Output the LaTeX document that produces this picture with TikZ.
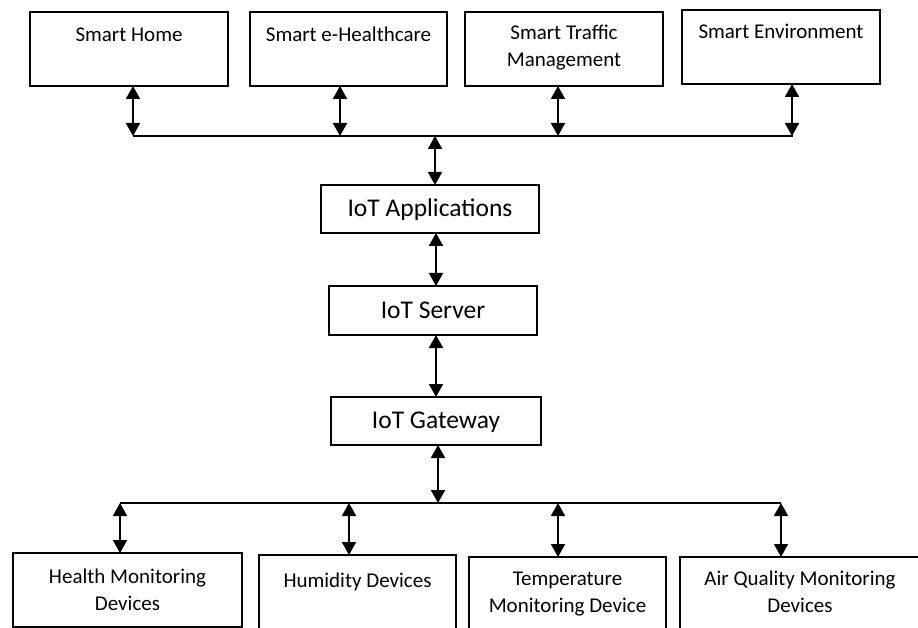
\documentclass[tikz,border=0pt]{standalone}
\usepackage{fontspec}
\setmainfont{Carlito}
\usetikzlibrary{arrows.meta}
\begin{document}
\begin{tikzpicture}[x=1pt,y=-1pt,
 box/.style={draw, line width=1.1pt, inner sep=0pt, outer sep=0pt, anchor=north west},
 lbl/.style={anchor=base, align=center, inner sep=0pt, font=\fontsize{21}{27}\selectfont},
 midlbl/.style={anchor=base, inner sep=0pt, font=\fontsize{25.5}{29}\selectfont},
 arr/.style={line width=1.9pt, {Triangle[width=14pt,length=13pt]}-{Triangle[width=14pt,length=13pt]}},
 bus/.style={line width=1.9pt}]
\fill[white] (0,0) rectangle (918,628);
\useasboundingbox (0,0) rectangle (918,628);
\clip (0,0) rectangle (918,628);
% top boxes
\node[box, minimum width=198pt, minimum height=74pt] (home) at (30,12) {};
\node[box, minimum width=197pt, minimum height=74pt] (ehealth) at (250,12) {};
\node[box, minimum width=198pt, minimum height=74pt] (traffic) at (465,12) {};
\node[box, minimum width=198pt, minimum height=74pt] (env) at (682,10) {};
\node[lbl] (homet) at ([yshift=-30pt]home.north) {Smart Home};
\node[lbl] (ehealtht) at ([yshift=-30pt]ehealth.north) {Smart e-Healthcare};
\node[lbl] (traffict) at ([yshift=-55pt]traffic.north) {Smart Traffic\\Management};
\node[lbl] (envt) at ([yshift=-29pt]env.north) {Smart Environment};
% middle boxes
\node[box, minimum width=218pt, minimum height=48pt] (apps) at (321,185) {};
\node[box, minimum width=208pt, minimum height=49pt] (server) at (329,286) {};
\node[box, minimum width=210pt, minimum height=48pt] (gateway) at (331,397) {};
\node[midlbl] (appst) at ([yshift=-32pt]apps.north) {IoT Applications};
\node[midlbl] (servert) at ([yshift=-32pt]server.north) {IoT Server};
\node[midlbl] (gatewayt) at ([yshift=-31pt]gateway.north) {IoT Gateway};
% bottom boxes
\node[box, minimum width=229pt, minimum height=74pt] (health) at (13,553) {};
\node[box, minimum width=197pt, minimum height=90pt] (humid) at (259,555) {};
\node[box, minimum width=197pt, minimum height=90pt] (temp) at (469,557) {};
\node[box, minimum width=240pt, minimum height=90pt] (air) at (680,557) {};
\node[lbl] (healtht) at ([yshift=-57pt]health.north) {Health Monitoring\\Devices};
\node[lbl] (humidt) at ([yshift=-32pt]humid.north) {Humidity Devices};
\node[lbl] (tempt) at ([yshift=-55pt]temp.north) {Temperature\\Monitoring Device};
\node[lbl] (airt) at ([yshift=-55pt]air.north) {Air Quality Monitoring\\Devices};
% top bus
\coordinate (t1) at (133,136);
\coordinate (t2) at (340,136);
\coordinate (t3) at (558,136);
\coordinate (t4) at (792,136);
\coordinate (tE) at (793,136);
\coordinate (tc) at (435,136);
\draw[bus] (t1) -- (tE);
\draw[arr] (home.south -| t1) -- (t1);
\draw[arr] (ehealth.south -| t2) -- (t2);
\draw[arr] (traffic.south -| t3) -- (t3);
\draw[arr] (env.south -| t4) -- (t4);
\draw[arr] (tc) -- (tc |- apps.north);
% middle
\coordinate (m1) at (436,250);
\draw[arr] (apps.south -| m1) -- (server.north -| m1);
\draw[arr] (server.south -| m1) -- (gateway.north -| m1);
% bottom bus
\coordinate (bc) at (438,503);
\coordinate (b1) at (120,503);
\coordinate (b2) at (349,503);
\coordinate (b3) at (558,503);
\coordinate (b4) at (781,503);
\draw[bus] (b1) -- (b4);
\draw[arr] (gateway.south -| bc) -- (bc);
\draw[arr] (b1) -- (b1 |- health.north);
\draw[arr] (b2) -- (b2 |- humid.north);
\draw[arr] (b3) -- (b3 |- temp.north);
\draw[arr] (b4) -- (b4 |- air.north);
\end{tikzpicture}
\end{document}
